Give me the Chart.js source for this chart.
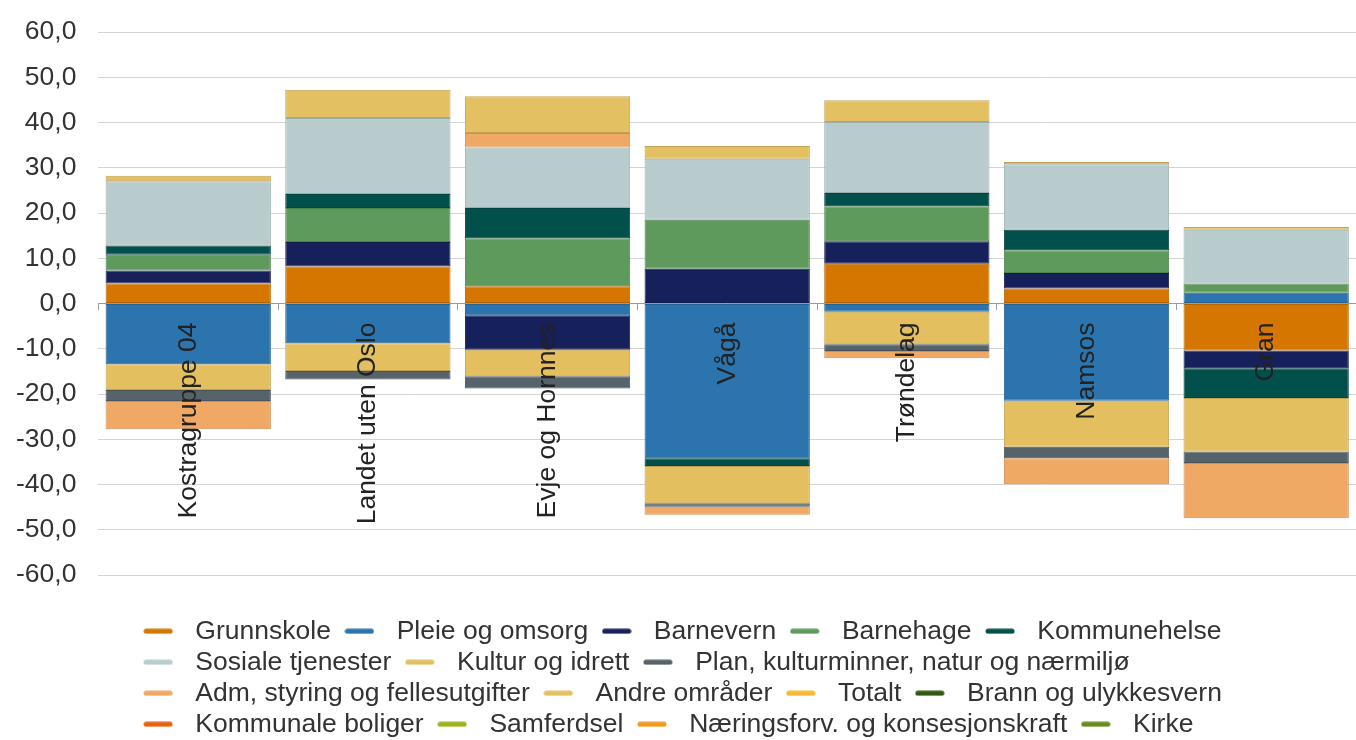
<!DOCTYPE html>
<html>
<head>
<meta charset="utf-8">
<script src="https://cdn.jsdelivr.net/npm/chart.js@4.4.1/dist/chart.umd.min.js"></script>
<style>
  body { margin: 0; background: #fff; }
</style>
</head>
<body>
<canvas id="chart" width="1356" height="740"></canvas>
<script>
const categories = ['Kostragruppe 04', 'Landet uten Oslo', 'Evje og Hornnes', 'Vågå', 'Trøndelag', 'Namsos', 'Gran'];

// values, one array per area
const grunnskole   = [4.4, 8.2, 3.8, 0, 8.8, 3.3, -10.4];
const pleie        = [-13.4, -8.8, -2.6, -34.2, -1.85, -21.5, 2.35];
const barnevern    = [2.9, 5.4, -7.6, 7.7, 4.95, 3.45, -3.9];
const barnehage    = [3.5, 7.5, 10.6, 10.8, 7.75, 5.0, 2.05];
const kommunehelse = [2.0, 3.1, 6.7, -1.7, 2.9, 4.55, -6.6];
const sosiale      = [14.2, 16.8, 13.4, 13.5, 15.7, 14.45, 11.9];
const kultur       = [-5.7, -6.1, -5.85, -8.25, -7.15, -10.15, -11.8];
const plan         = [-2.45, -1.9, -2.75, -0.75, -1.5, -2.55, -2.55];
const adm          = [-6.25, 0, 3.2, -1.8, -1.6, -5.75, -12.2];
const andre        = [1.25, 6.25, 8.1, 2.8, 4.8, 0.5, 0.6];
const totalt       = [0, 0, 0, 0, 0, 0, 0];
const brann        = [0, 0, 0, 0, 0, 0, 0];
const boliger      = [0, 0, 0, 0, 0, 0, 0];
const samferdsel   = [0, 0, 0, 0, 0, 0, 0];
const naering      = [0, 0, 0, 0, 0, 0, 0];
const kirke        = [0, 0, 0, 0, 0, 0, 0];

const seriesNames = ['Grunnskole', 'Pleie og omsorg', 'Barnevern', 'Barnehage', 'Kommunehelse',
    'Sosiale tjenester', 'Kultur og idrett', 'Plan, kulturminner, natur og nærmiljø',
    'Adm, styring og fellesutgifter', 'Andre områder', 'Totalt', 'Brann og ulykkesvern',
    'Kommunale boliger', 'Samferdsel', 'Næringsforv. og konsesjonskraft', 'Kirke'];
const seriesValues = [grunnskole, pleie, barnevern, barnehage, kommunehelse, sosiale, kultur, plan,
    adm, andre, totalt, brann, boliger, samferdsel, naering, kirke];
const seriesColors = ['#d57600', '#2b74ae', '#16205a', '#5d9a5b', '#01504b', '#b9cccd', '#e4bf5f', '#56636a',
    '#f0a865', '#e3c062', '#f7b733', '#2f5a10', '#e8630e', '#9cb31c', '#f29a1d', '#6a8c1e'];

const FONT = "'Liberation Sans', Arial, sans-serif";
const FONT_SIZE = 26.5;

function darker(hex, f) {
    let n = parseInt(hex.slice(1), 16);
    let r = Math.round(((n >> 16) & 255) * f);
    let g = Math.round(((n >> 8) & 255) * f);
    let b = Math.round((n & 255) * f);
    return `rgb(${r},${g},${b})`;
}

//short thick line used as legend marker
function lineMarker(color) {
    let c = document.createElement('canvas');
    c.width = 30;
    c.height = 6;
    let g = c.getContext('2d');
    g.strokeStyle = color;
    g.lineWidth = 5;
    g.lineCap = 'round';
    g.beginPath();
    g.moveTo(3, 3);
    g.lineTo(27, 3);
    g.stroke();
    return c;
}

//legend rows stay left aligned, but the block is centred under the chart
const centerLegendBlock = {
    id: 'centerLegendBlock',
    afterLayout(chart) {
        let lg = chart.legend;
        let p = lg.options.labels.padding;
        let widest = Math.max(...lg.lineWidths);
        lg.left = (chart.width - widest - p) / 2;
    }
};

const datasets = seriesNames.map((name, i) => ({
    label: name,
    data: seriesValues[i],
    backgroundColor: seriesColors[i],
    borderColor: darker(seriesColors[i], 0.85),
    borderWidth: 1,
    borderSkipped: false
}));

new Chart('chart', {
    type: 'bar',
    data: { labels: categories, datasets: datasets },
    plugins: [centerLegendBlock],
    options: {
        responsive: false,
        animation: false,
        events: [],
        layout: { padding: { top: 32, left: -6, right: 0, bottom: -7.5 } },
        datasets: { bar: { categoryPercentage: 1, barPercentage: 0.92 } },
        scales: {
            x: {
                stacked: true,
                position: { y: 0 },
                afterFit: s => { s.paddingLeft = 0; s.paddingRight = 0; },
                grid: { display: true, drawOnChartArea: false, offset: true, tickLength: 6, color: '#9a9a9a' },
                border: { display: true, color: '#9a9a9a' },
                ticks: {
                    z: 1,
                    autoSkip: false,
                    minRotation: 90,
                    maxRotation: 90,
                    padding: 13,
                    color: '#222',
                    font: { family: FONT, size: FONT_SIZE }
                }
            },
            y: {
                stacked: true,
                min: -60,
                max: 60,
                afterFit: s => { s.paddingTop = 0; s.paddingBottom = 0; },
                grid: { color: '#d4d4d4', drawTicks: false },
                border: { display: false },
                ticks: {
                    stepSize: 10,
                    padding: 22,
                    color: '#333',
                    font: { family: FONT, size: FONT_SIZE },
                    callback: v => v.toFixed(1).replace('.', ',')
                }
            }
        },
        plugins: {
            tooltip: { enabled: false },
            legend: {
                position: 'bottom',
                align: 'start',
                fullSize: false,
                title: { display: true, text: '', font: { size: 10 }, padding: { top: 0, bottom: 26.5 } },
                labels: {
                    usePointStyle: true,
                    pointStyleWidth: 48,
                    padding: 4.5,
                    color: '#333',
                    font: { family: FONT, size: FONT_SIZE },
                    generateLabels: chart => chart.data.datasets.map((ds, i) => ({
                        text: ds.label,
                        fillStyle: ds.backgroundColor,
                        strokeStyle: ds.backgroundColor,
                        lineWidth: 0,
                        pointStyle: lineMarker(ds.backgroundColor),
                        hidden: false,
                        datasetIndex: i,
                        fontColor: '#333'
                    }))
                }
            }
        }
    }
});
</script>
</body>
</html>
